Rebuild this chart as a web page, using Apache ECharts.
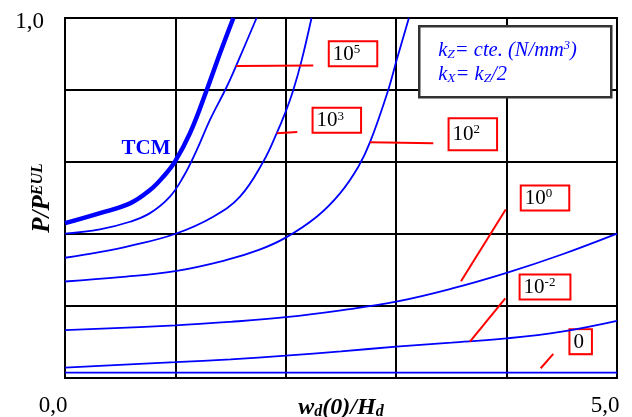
<!DOCTYPE html>
<html>
<head>
<meta charset="utf-8">
<script src="https://cdn.jsdelivr.net/npm/echarts@6/dist/echarts.min.js"></script>
<style>
  html, body { margin: 0; padding: 0; background: #fff; }
  #chart { width: 632px; height: 417px; }
</style>
</head>
<body>
<div id="chart"></div>
<script>
// curvas P/P_EUL frente a w_d(0)/H_d  ([x, y])
const tcm = [[0, 0.430], [0.317, 0.458], [0.589, 0.485], [0.770, 0.522], [0.890, 0.559], [0.996, 0.601], [1.132, 0.680], [1.284, 0.800], [1.404, 0.902], [1.525, 1.0]];
const k1e5 = [[0, 0.401], [0.317, 0.413], [0.589, 0.434], [0.770, 0.458], [0.951, 0.504], [1.072, 0.559], [1.193, 0.633], [1.313, 0.717], [1.465, 0.809], [1.585, 0.892], [1.735, 1.0]];
const k1e3 = [[0, 0.334], [0.30, 0.349], [0.589, 0.367], [0.996, 0.400], [1.343, 0.448], [1.585, 0.504], [1.796, 0.601], [1.918, 0.680], [1.999, 0.740], [2.068, 0.800], [2.144, 0.883], [2.233, 1.0]];
const k1e2 = [[0, 0.268], [0.5, 0.280], [1.0, 0.297], [1.465, 0.328], [1.75, 0.355], [1.999, 0.390], [2.280, 0.448], [2.491, 0.513], [2.657, 0.587], [2.763, 0.655], [2.928, 0.800], [3.004, 0.883], [3.115, 1.0]];
const k1e0 = [[0, 0.133], [1.0, 0.146], [1.5, 0.156], [2.0, 0.169], [2.5, 0.188], [3.0, 0.212], [3.5, 0.248], [4.0, 0.292], [4.5, 0.343], [5.0, 0.401]];
const k1em2 = [[0, 0.029], [1.0, 0.044], [1.5, 0.052], [2.0, 0.062], [2.5, 0.074], [3.0, 0.087], [3.5, 0.098], [4.0, 0.110], [4.5, 0.129], [5.0, 0.159]];
const k0 = [[0, 0.015], [5.0, 0.015]];

// etiquetas de kz y sus lineas de referencia
const labelText = ['{n|10}{e|5}', '{n|10}{e|3}', '{n|10}{e|2}', '{n|10}{e|0}', '{n|10}{e|-2}', '{n|0}'];
const labelPos = [[2.609, 0.901], [2.462, 0.716], [3.694, 0.677], [4.348, 0.500], [4.348, 0.253], [4.671, 0.101]];
const leaders = [
  [[1.550, 0.867], [2.249, 0.868]],
  [[1.918, 0.680], [2.104, 0.683]],
  [[2.763, 0.655], [3.336, 0.652]],
  [[3.587, 0.269], [3.992, 0.468]],
  [[3.668, 0.101], [3.988, 0.221]],
  [[4.309, 0.027], [4.423, 0.067]]
];
const tcmLabelPos = [0.734, 0.637];

const chart = echarts.init(document.getElementById('chart'));

const blue = '#0000ff';
const thin = data => ({
  type: 'line', data: data, smooth: 0.4, symbol: 'none', silent: true,
  lineStyle: { color: blue, width: 1.8 }
});

// cajas de las etiquetas (ancho/alto segun el texto)
const boxPad = [[2, 16, 1, 3], [2, 16, 1, 3], [5, 16, 5, 3], [2, 16, 1, 3], [2, 14, 1, 3], [2, 7, 1, 3]];

option = {
  animation: false,
  grid: {
    left: 65, right: 15, top: 18, bottom: 39,
    containLabel: false, outerBoundsMode: 'none',
    show: true, borderColor: '#000', borderWidth: 2
  },
  xAxis: {
    type: 'value', min: 0, max: 5, interval: 1,
    name: '{a|w}{s|d}{a|(0)/H}{s|d}',
    nameLocation: 'middle', nameGap: 17, nameMoveOverlap: false,
    nameTextStyle: {
      verticalAlign: 'top',
      rich: {
        a: { fontFamily: 'Liberation Serif', fontSize: 24, fontStyle: 'italic', fontWeight: 'bold', color: '#000' },
        s: { fontFamily: 'Liberation Serif', fontSize: 16, fontStyle: 'italic', fontWeight: 'bold', color: '#000', padding: [9, 0, 0, 0] }
      }
    },
    axisLine: { lineStyle: { color: '#000', width: 2 } },
    axisTick: { show: false },
    splitLine: { lineStyle: { color: '#000', width: 2 } },
    axisLabel: {
      margin: 16,
      fontFamily: 'Liberation Serif', fontSize: 23, color: '#000',
      padding: [0, 24, 0, 0],
      formatter: v => (v === 0 ? '0,0' : v === 5 ? '5,0' : '')
    }
  },
  yAxis: {
    type: 'value', min: 0, max: 1, interval: 0.2,
    name: '{a|P/P}{e|EUL}',
    nameLocation: 'middle', nameGap: 9, nameMoveOverlap: false,
    nameTextStyle: {
      rich: {
        a: { fontFamily: 'Liberation Serif', fontSize: 25, fontStyle: 'italic', fontWeight: 'bold', color: '#000' },
        e: { fontFamily: 'Liberation Serif', fontSize: 16, fontStyle: 'italic', fontWeight: 'bold', color: '#000', padding: [0, 0, 10, 0] }
      }
    },
    axisLine: { lineStyle: { color: '#000', width: 2 } },
    axisTick: { show: false },
    splitLine: { lineStyle: { color: '#000', width: 2 } },
    axisLabel: {
      margin: 21,
      fontFamily: 'Liberation Serif', fontSize: 23, color: '#000',
      verticalAlign: 'top', lineHeight: 7,
      formatter: v => (v === 1 ? '1,0' : '')
    }
  },
  graphic: [{
    type: 'group', left: 418, top: 25, z: 100,
    children: [
      { type: 'rect', z: 100, shape: { x: 0, y: 0, width: 192, height: 71 },
        style: { fill: '#fff', stroke: '#333', lineWidth: 2.5 } },
      { type: 'text', z: 101, x: 19, y: 12,
        style: {
          text: '{a|k}{s|Z}{a|= cte. (N/mm}{p|3}{a|)}\n{a|k}{s|X}{a|= k}{s|Z}{a|/2}',
          rich: {
            a: { fontFamily: 'Liberation Serif', fontSize: 20.5, fontStyle: 'italic', fill: blue, lineHeight: 24 },
            s: { fontFamily: 'Liberation Serif', fontSize: 13.5, fontStyle: 'italic', fill: blue, padding: [8, 0, 0, 0], lineHeight: 24 },
            p: { fontFamily: 'Liberation Serif', fontSize: 12.5, fontStyle: 'italic', fill: blue, padding: [0, 0, 9, 0], lineHeight: 24 }
          }
        } }
    ]
  }],
  series: [
    {
      type: 'line', data: tcm, smooth: 0.4, symbol: 'none', silent: true,
      lineStyle: { color: blue, width: 4.5 }
    },
    thin(k1e5), thin(k1e3), thin(k1e2), thin(k1e0), thin(k1em2), thin(k0),
    ...leaders.map(seg => ({
      type: 'line', data: seg, symbol: 'none', silent: true,
      lineStyle: { color: '#ff0000', width: 2 }
    })),
    {
      type: 'scatter', symbolSize: 0, silent: true,
      itemStyle: { opacity: 1 },
      data: labelPos.map((p, i) => ({
        value: p,
        label: {
          show: true, position: 'inside', formatter: labelText[i],
          backgroundColor: '#fff', borderColor: '#ff0000', borderWidth: 2,
          padding: boxPad[i],
          rich: {
            n: { fontFamily: 'Liberation Serif', fontSize: 21, color: '#000', lineHeight: 20 },
            e: { fontFamily: 'Liberation Serif', fontSize: 13, color: '#000', padding: [0, 0, 9, 0], lineHeight: 20 }
          }
        }
      }))
    },
    {
      type: 'scatter', symbolSize: 0, silent: true,
      itemStyle: { opacity: 1 },
      data: [tcmLabelPos],
      label: {
        show: true, position: 'inside', formatter: 'TCM',
        fontFamily: 'Liberation Serif', fontSize: 21, fontWeight: 'bold', color: blue
      }
    }
  ]
};

chart.setOption(option);
</script>
</body>
</html>
